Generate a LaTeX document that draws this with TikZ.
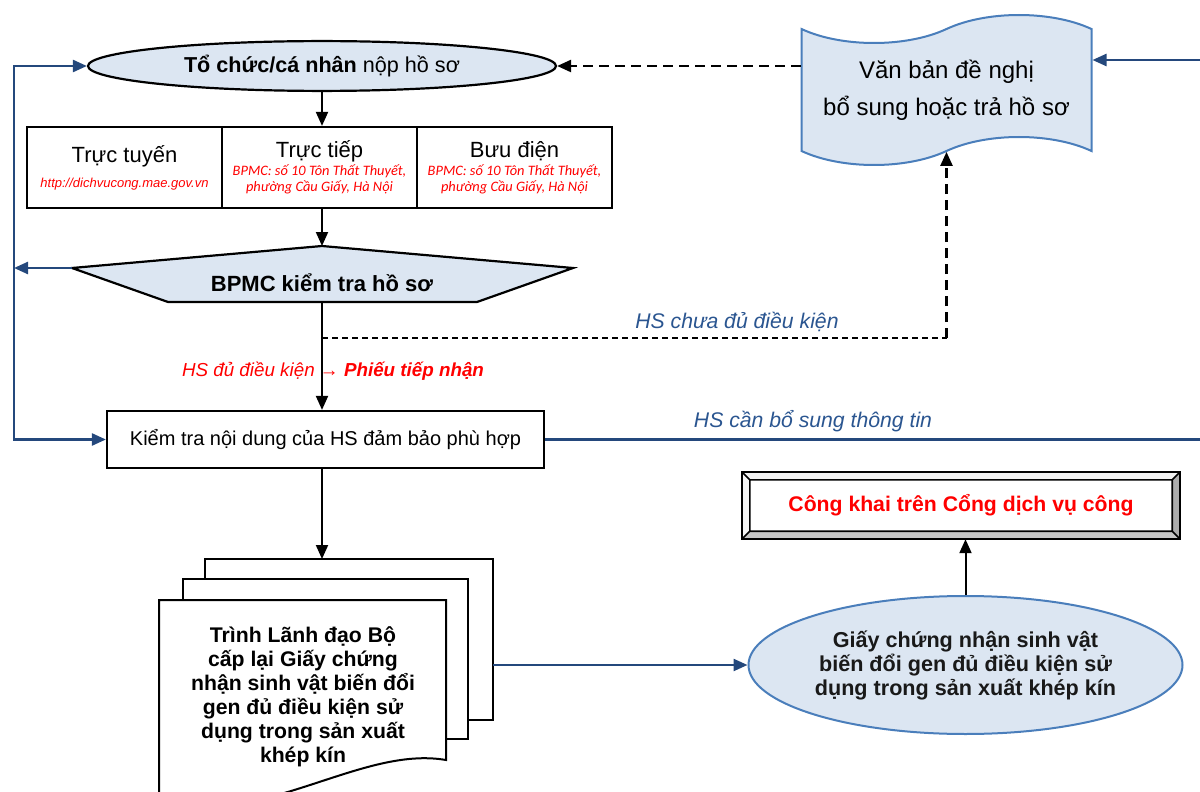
\documentclass[tikz,border=0pt]{standalone}
\usepackage{fontspec}
\setmainfont{Liberation Sans}
\newfontfamily\calibri{Carlito}
\usetikzlibrary{arrows.meta,calc,positioning,shapes.geometric,shapes.symbols}
\definecolor{bluenode}{HTML}{DCE6F2}
\definecolor{blueline}{HTML}{24487C}
\definecolor{blueedge}{HTML}{4A7EBB}
\definecolor{bluetext}{HTML}{2A5590}
\newcommand{\urlred}{\fontsize{6.5}{8}\selectfont\itshape\color{red}}
\newcommand{\addrred}{\calibri\fontsize{7.2}{8}\selectfont\itshape\color{red}}
\tikzset{
       arr/.style = {-{Triangle[length=7pt,width=6pt]}, line width=1pt},   % <--- black flow
      barr/.style = {-{Triangle[length=7pt,width=6pt]}, line width=1.2pt, blueline},
      darr/.style = {-{Triangle[length=7pt,width=6pt]}, line width=1.2pt, dash pattern=on 5pt off 3pt},
      base/.style = {draw, line width=1.1pt, align=center,
                     font=\fontsize{10.8}{13}\selectfont},
  startell/.style = {base, ellipse, fill=bluenode, minimum width=234pt, minimum height=24pt},
   channel/.style = {base, rectangle, alias=tmp, minimum width=97.5pt,
                     minimum height=40.5pt, inner sep=1pt},
      hexa/.style = {draw, line width=1.1pt, fill=bluenode},
   process/.style = {base, rectangle, minimum width=218.5pt, minimum height=28.5pt,
                     font=\fontsize{10}{12}\selectfont},
    letter/.style = {base, tape, draw=blueedge, line width=1pt, fill=bluenode,
                     minimum width=145pt, minimum height=75pt, tape bend height=14pt,
                     font=\fontsize{12}{14.4}\selectfont},
      page/.style = {draw, line width=1pt, fill=white},
    result/.style = {base, ellipse, draw=blueedge, line width=1pt, fill=bluenode,
                     minimum width=217pt, minimum height=69pt, inner sep=0pt,
                     font=\bfseries\fontsize{10.8}{12}\selectfont, text=black!90},
    pubbox/.style = {base, rectangle, line width=1.2pt, minimum width=218pt,
                     minimum height=32.5pt, text=red, font=\bfseries\fontsize{10.6}{12}\selectfont},
       lbl/.style = {font=\itshape\fontsize{10.6}{12}\selectfont, inner sep=1pt},
}

\begin{document}
\begin{tikzpicture}[x=0.5pt,y=-0.5pt]
\useasboundingbox (0,0) rectangle (1200,792);
\clip (0,0) rectangle (1200,792);

%% applicant and channels
\node[startell] (sub) at (322,66) {\textbf{Tổ chức/cá nhân} nộp hồ sơ};
\path[nodes=channel]
  node (online) at (124.5,167.5) {\fontsize{11}{13}\selectfont Trực tuyến\\[-0.5pt]{\urlred http://dichvucong.mae.gov.vn}}
  node[right=-\pgflinewidth of tmp] (direct) {\fontsize{11}{13}\selectfont Trực tiếp\\[-4pt]{\addrred BPMC: số 10 Tôn Thất Thuyết,}\\[-5pt]{\addrred phường Cầu Giấy, Hà Nội}}
  node[right=-\pgflinewidth of tmp] (post) {\fontsize{11}{13}\selectfont Bưu điện\\[-4pt]{\addrred BPMC: số 10 Tôn Thất Thuyết,}\\[-5pt]{\addrred phường Cầu Giấy, Hà Nội}};

%% BPMC check
\coordinate (chkL)  at (72,268);
\coordinate (chkT)  at (322,246);
\coordinate (chkR)  at (573,268);
\coordinate (chkBR) at (477,302);
\coordinate (chkBL) at (168,302);
\coordinate (chkB)  at (322,302);
\draw[hexa] (chkL) -- (chkT) -- (chkR) -- (chkBR) -- (chkBL) -- cycle;
\node[font=\bfseries\fontsize{11}{13}\selectfont] (check) at (322,283) {BPMC kiểm tra hồ sơ};

\node[process] (verify) at (325.5,439.5) {Kiểm tra nội dung của HS đảm bảo phù hợp};
\node[letter] (doc) at (946.5,90) {Văn bản đề nghị\\[4pt]bổ sung hoặc trả hồ sơ};

%% submission pages
\draw[page] (205,559) rectangle (493,720);
\draw[page] (183,579) rectangle (468,739);
\draw[page] (159,600) -- (446,600) -- (446,760) .. controls (360,745) and (260,830) .. (159,800) -- cycle;
\node[font=\bfseries\fontsize{10.6}{12}\selectfont, align=center] (approve) at (303,697)
  {Trình Lãnh đạo Bộ\\cấp lại Giấy chứng\\nhận sinh vật biến đổi\\gen đủ điều kiện sử\\dụng trong sản xuất\\khép kín};
\coordinate (pagetop) at (322,559);
\coordinate (pageR)   at (493,665);

%% result and publishing
\node[result] (cert) at (965.5,665) {Giấy chứng nhận sinh vật\\biến đổi gen đủ điều kiện sử\\dụng trong sản xuất khép kín};
\node[pubbox] (pub) at (961,505.5) {};
\coordinate (iNW) at ([shift={(4pt,-4pt)}]pub.north west);
\coordinate (iNE) at ([shift={(-4pt,-4pt)}]pub.north east);
\coordinate (iSE) at ([shift={(-4pt,4pt)}]pub.south east);
\coordinate (iSW) at ([shift={(4pt,4pt)}]pub.south west);
\fill[gray!12] (pub.north west) -- (pub.north east) -- (iNE) -- (iNW) -- cycle;
\fill[gray!8]  (pub.north west) -- (iNW) -- (iSW) -- (pub.south west) -- cycle;
\fill[gray!65] (pub.north east) -- (pub.south east) -- (iSE) -- (iNE) -- cycle;
\fill[gray!45] (pub.south west) -- (iSW) -- (iSE) -- (pub.south east) -- cycle;
\draw[line width=0.8pt] (iNW) rectangle (iSE)
  (pub.north west) -- (iNW) (pub.north east) -- (iNE)
  (pub.south east) -- (iSE) (pub.south west) -- (iSW);
\draw[line width=1.2pt] (pub.north west) rectangle (pub.south east);
\node[text=red, font=\bfseries\fontsize{10.6}{12}\selectfont] (pubtxt) at (pub.center) {Công khai trên Cổng dịch vụ công};

%% connectors
\draw[arr] (sub.south) -- (sub.south |- direct.north);
\draw[arr] (chkT |- direct.south) -- (chkT);
\draw[arr] (chkB) -- (verify.north -| chkB);
\draw[arr] (verify.south -| pagetop) -- (pagetop);
\draw[arr] (cert.north) -- (cert.north |- pub.south);
\draw[barr] (pageR) -- (cert.west);

% back to applicant
\coordinate (loopx) at (14,268);
\draw[barr] (chkL) -- (loopx);
\draw[barr] (loopx) |- (sub.west);
\draw[barr] (loopx) |- (verify.west);

% missing documents
\coordinate (fork) at (322,338);
\coordinate (turn) at (doc.south |- fork);
\draw[line width=0.6pt, dash pattern=on 3pt off 2pt] (fork) -- (turn);
\draw[darr] (turn) -- (doc.south);
\draw[darr] (doc.west |- sub.east) -- (sub.east);

% extra information requested
\coordinate (rt) at (1215,60);
\draw[barr] (verify.east) -| (rt) -- (doc.east |- rt);

%% labels
\node[lbl, text=bluetext] (notok) at (737,322) {HS chưa đủ điều kiện};
\node[lbl, text=bluetext] (needinfo) at (813,421) {HS cần bổ sung thông tin};
\node[lbl, text=red, font=\itshape\fontsize{9.4}{11}\selectfont] (ok) at (333,371) {HS đủ điều kiện → \textbf{Phiếu tiếp nhận}};
\end{tikzpicture}
\end{document}
